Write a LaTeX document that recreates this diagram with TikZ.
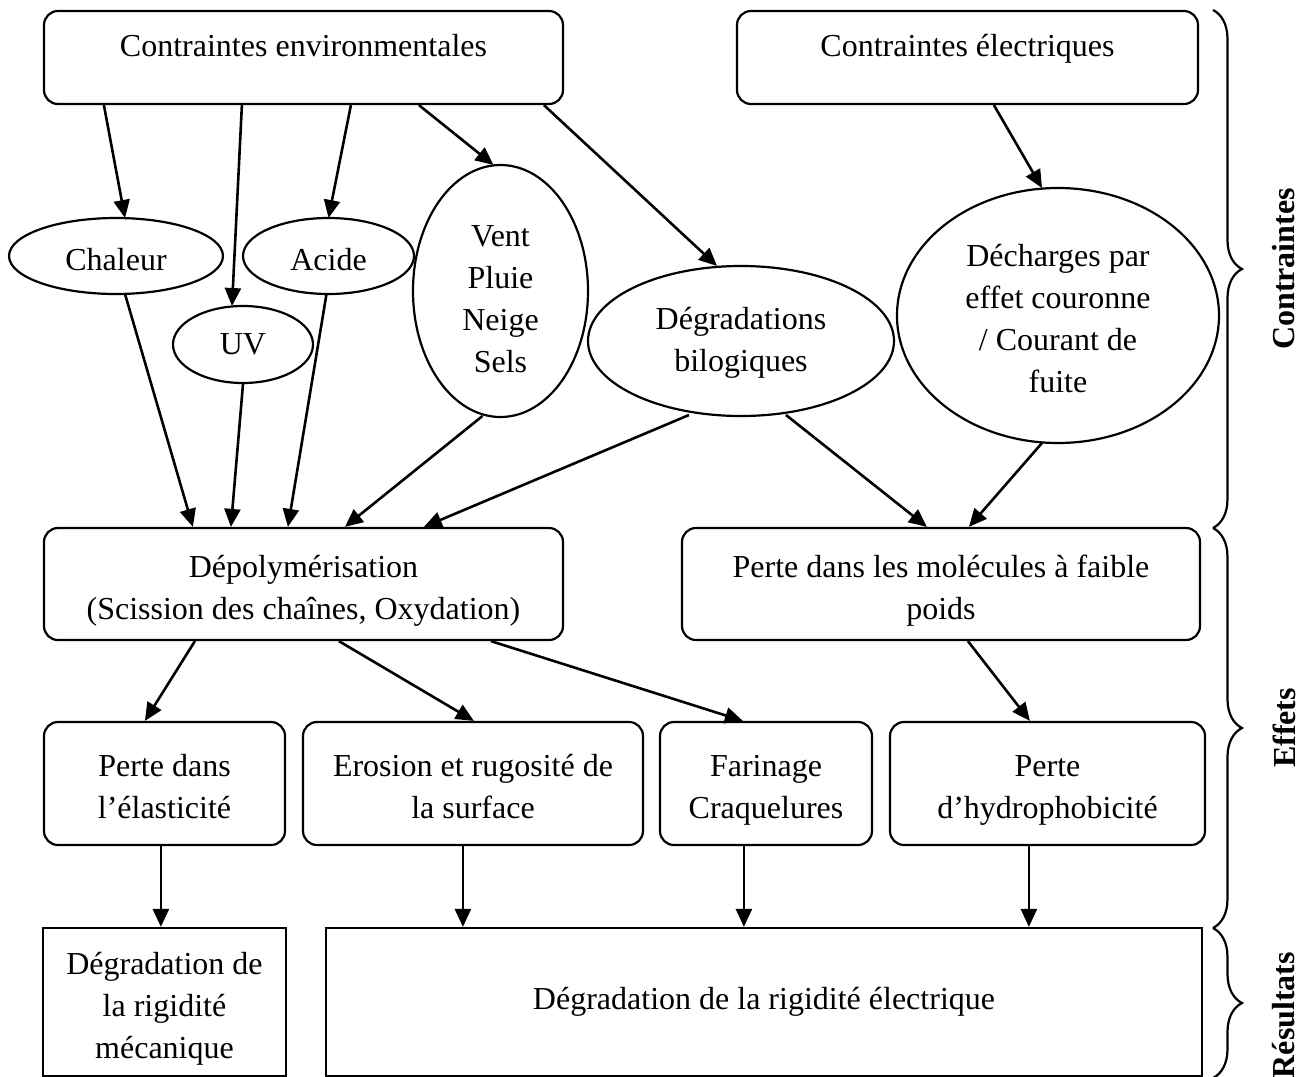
\documentclass[tikz,border=0pt]{standalone}
\usepackage{fontspec}
\setmainfont{Liberation Serif}
\usetikzlibrary{shapes.geometric,arrows.meta,calc,decorations.pathreplacing}
\newcommand{\fst}{\rule{0pt}{18.25pt}}
\newcommand{\fstb}{\rule{0pt}{22pt}}
\newcommand{\fsts}{\rule{0pt}{13.25pt}}
\newcommand{\lst}{\rule[-4pt]{0pt}{4pt}}
\tikzset{
  txt/.style={font=\fontsize{16pt}{21pt}\selectfont, align=center, inner sep=0pt},
  rbox/.style={draw, line width=1.1pt, rounded corners=7pt, txt},
  sbox/.style={draw, line width=1.1pt, txt},
  ell/.style={draw, line width=1.1pt, ellipse, txt},
  arr/.style={line width=1.3pt, -{Triangle[length=9pt,width=8pt]}},
  brc/.style={line width=1.1pt, decorate, decoration={brace, amplitude=14.5pt}},
  side/.style={font=\fontsize{16pt}{21pt}\selectfont\bfseries, rotate=90, inner sep=0pt}
}
\begin{document}
\begin{tikzpicture}[x=0.5pt,y=-0.5pt]
\useasboundingbox (0,0) rectangle (1308,1077);
% top boxes
\node[rbox, minimum width=259.5pt, minimum height=46.5pt] (env) at (303.5,57.5) {};
\node[txt, anchor=base] (envt) at (303.5,56) {Contraintes environmentales};
\node[rbox, minimum width=230.5pt, minimum height=46.5pt] (elec) at (967.5,57.5) {};
\node[txt, anchor=base] (elect) at (967.5,56) {Contraintes électriques};
% ellipses
\node[ell, minimum width=107pt, minimum height=38pt] (chal) at (116,256) {\fst Chaleur\lst};
\node[ell, minimum width=85.5pt, minimum height=38pt] (acid) at (328.5,256) {\fst Acide\lst};
\node[ell, minimum width=70pt, minimum height=38.5pt] (uv) at (243,344.5) {UV};
\node[ell, minimum width=87.5pt, minimum height=126pt] (vent) at (500.5,291) {\fstb Vent\\Pluie\\Neige\\Sels\lst};
\node[ell, minimum width=153pt, minimum height=75pt] (dbio) at (741,341) {\fsts Dégradations\\bilogiques\lst};
\node[ell, minimum width=161pt, minimum height=127.5pt] (dech) at (1058,315.5) {\fst Décharges par\\effet couronne\\/ Courant de\\fuite\lst};
% effect boxes
\node[rbox, minimum width=259.5pt, minimum height=56pt] (depoly) at (303.5,584) {\fst Dépolymérisation\\(Scission des chaînes, Oxydation)\lst};
\node[rbox, minimum width=259pt, minimum height=56pt] (pmol) at (941,584) {\fst Perte dans les molécules à faible\\poids\lst};
\node[rbox, minimum width=120.5pt, minimum height=61.5pt] (pelast) at (164.5,783.5) {\fst Perte dans\\l’élasticité\lst};
\node[rbox, minimum width=170pt, minimum height=61.5pt] (eros) at (473,783.5) {\fst Erosion et rugosité de\\la surface\lst};
\node[rbox, minimum width=106pt, minimum height=61.5pt] (farin) at (766,783.5) {\fst Farinage\\Craquelures\lst};
\node[rbox, minimum width=157.5pt, minimum height=61.5pt] (hydro) at (1047.5,783.5) {\fst Perte\\d’hydrophobicité\lst};
% result boxes
\node[sbox, minimum width=121.5pt, minimum height=74pt] (dmeca) at (164.5,1002) {\fst Dégradation de\\la rigidité\\mécanique\lst};
\node[sbox, minimum width=438pt, minimum height=74pt] (delec) at (764,1002) {Dégradation de la rigidité électrique};
% arrows from top
\draw[arr] ($(env.south west)+(61,0)$) -- ($(chal.center)+(9,-38)$);
\draw[arr] ($(env.south west)+(199,0)$) -- ($(uv.center)+(-11,-38.5)$);
\draw[arr] ($(env.south west)+(308,0)$) -- ($(acid.center)+(0,-38)$);
\draw[arr] ($(env.south west)+(376,0)$) -- ($(vent.center)+(-7,-126)$);
\draw[arr] ($(env.south west)+(501,0)$) -- ($(dbio.center)+(-24,-75)$);
\draw[arr] ($(elec.south west)+(258,0)$) -- ($(dech.center)+(-16,-127.5)$);
% arrows to depoly / pmol
\draw[arr] ($(chal.center)+(9,38)$) -- ($(depoly.north west)+(150,0)$);
\draw[arr] (uv.south) -- ($(depoly.north west)+(188,0)$);
\draw[arr] ($(acid.center)+(-2,38)$) -- ($(depoly.north west)+(245,0)$);
\draw[arr] ($(vent.center)+(-18,125)$) -- ($(depoly.north west)+(302,0)$);
\draw[arr] ($(dbio.center)+(-52,74)$) -- ($(depoly.north west)+(381,0)$);
\draw[arr] ($(dbio.center)+(45,74)$) -- ($(pmol.north west)+(246,0)$);
\draw[arr] ($(dech.center)+(-16,127.5)$) -- ($(pmol.north west)+(288,0)$);
% arrows to effects
\draw[arr] ($(depoly.south west)+(152,0)$) -- ($(pelast.north west)+(102,0)$);
\draw[arr] ($(depoly.south west)+(296,0)$) -- ($(eros.north west)+(172,0)$);
\draw[arr] ($(depoly.south west)+(448,0)$) -- ($(farin.north west)+(84,0)$);
\draw[arr] ($(pmol.south west)+(287,0)$) -- ($(hydro.north west)+(141,0)$);
% arrows to results
\draw[arr] ($(pelast.south west)+(118,0)$) -- ($(dmeca.north west)+(119,0)$);
\draw[arr] ($(eros.south west)+(161,0)$) -- ($(delec.north west)+(138,0)$);
\draw[arr] ($(farin.south west)+(85,0)$) -- ($(delec.north west)+(419,0)$);
\draw[arr] ($(hydro.south west)+(140,0)$) -- ($(delec.north west)+(704,0)$);
% braces
\coordinate (b1) at (1213,10);
\coordinate (b2) at (1213,528);
\coordinate (b3) at (1213,928);
\coordinate (b4) at (1213,1078);
\draw[brc] (b1) -- (b2);
\draw[brc] (b2) -- (b3);
\draw[brc] (b3) -- (b4);
\node[side] (lc) at (1284,269) {Contraintes};
\node[side] (le) at (1284,728) {Effets};
\node[side] (lr) at (1284,1015) {Résultats};
\end{tikzpicture}
\end{document}
